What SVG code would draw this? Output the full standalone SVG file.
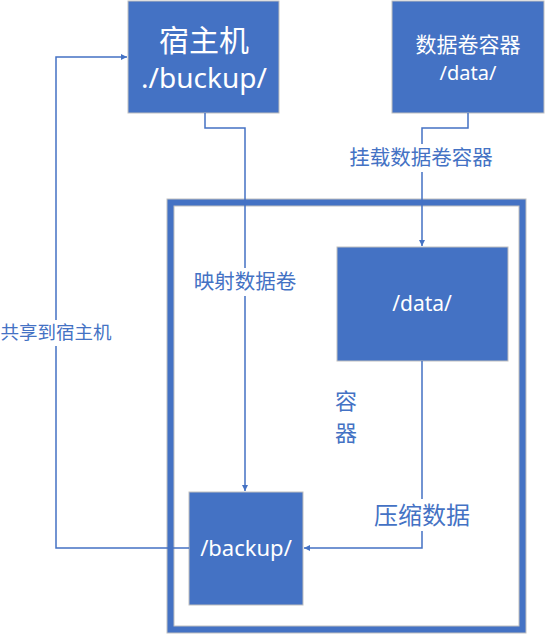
<svg xmlns="http://www.w3.org/2000/svg" width="545" height="634" viewBox="0 0 545 634">
<style>
.box{fill:#4472C4;stroke:#BFBFBF;stroke-width:1}
.wt{fill:#FFFFFF;font-family:"Noto Sans","Noto Sans CJK SC",sans-serif;text-anchor:middle}
.lb{fill:#4472C4;font-family:"Noto Sans CJK SC","Noto Sans",sans-serif;text-anchor:middle}
.ln{fill:none;stroke:#4472C4;stroke-width:1.5}
.bg{fill:#FFFFFF}
</style>
<defs>
<marker id="arr" viewBox="0 0 10 10" refX="10" refY="5" markerWidth="6" markerHeight="6" markerUnits="userSpaceOnUse" orient="auto"><path d="M0,0 L10,5 L0,10 z" fill="#4472C4"/></marker>
</defs>
<g id="container">
<rect x="170.5" y="202.5" width="352" height="427" fill="none" stroke="#4472C4" stroke-width="7"/>
<rect x="167" y="199" width="359" height="434" fill="none" stroke="#BFBFBF" stroke-width="1"/>
<rect x="174" y="206" width="345" height="420" fill="none" stroke="#BFBFBF" stroke-width="1"/>
<text class="lb" x="346" y="409" font-size="22">容</text>
<text class="lb" x="346" y="441" font-size="22">器</text>
</g>
<g id="host">
<rect class="box" x="128" y="1" width="151" height="112"/>
<text class="wt" x="204" y="51" font-size="30" font-family="Noto Sans CJK SC,sans-serif">宿主机</text>
<text class="wt" x="204" y="88" font-size="28">./buckup/</text>
</g>
<g id="datavol">
<rect class="box" x="392" y="1" width="152" height="112"/>
<text class="wt" x="468" y="52" font-size="21">数据卷容器</text>
<text class="wt" x="468" y="80" font-size="20">/data/</text>
</g>
<g id="data">
<rect class="box" x="337" y="247" width="171" height="114"/>
<text class="wt" x="422" y="311" font-size="21">/data/</text>
</g>
<g id="backup">
<rect class="box" x="189" y="492" width="114" height="113"/>
<text class="wt" x="246" y="556" font-size="22">/backup/</text>
</g>
<g id="connectors">
<path class="ln" d="M205,113 V128 H245 V491" marker-end="url(#arr)"/>
<path class="ln" d="M468,113 V128 H422 V246" marker-end="url(#arr)"/>
<path class="ln" d="M422,361 V548 H304" marker-end="url(#arr)"/>
<path class="ln" d="M189,548 H56 V57 H127" marker-end="url(#arr)"/>
<rect class="bg" x="190" y="268" width="110" height="28"/>
<text class="lb" x="245" y="289" font-size="20.5">映射数据卷</text>
<rect class="bg" x="345" y="144" width="154" height="28"/>
<text class="lb" x="421" y="165" font-size="20.5">挂载数据卷容器</text>
<rect class="bg" x="372" y="499" width="100" height="32"/>
<text class="lb" x="422" y="524" font-size="24">压缩数据</text>
<rect class="bg" x="0" y="320" width="114" height="26"/>
<text class="lb" x="56" y="339" font-size="18.5">共享到宿主机</text>
</g>
</svg>
